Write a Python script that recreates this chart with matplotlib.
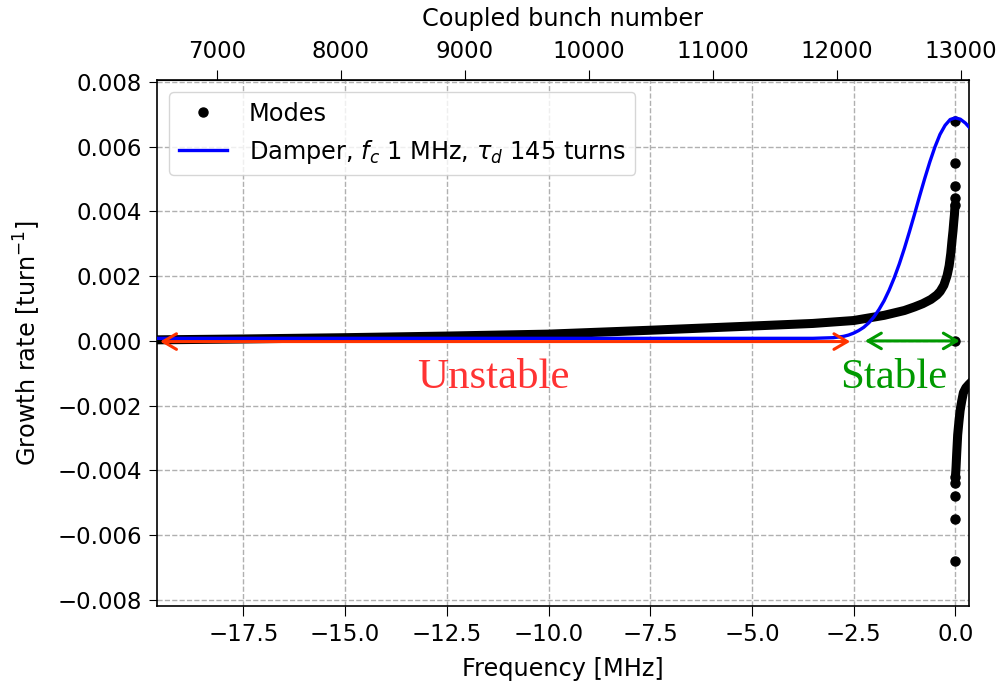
import matplotlib.pyplot as plt

# dense part of the mode spectrum (upper branch below 0 MHz, lower branch above)
band_up_freq = [-19.9, -17.5, -15.0, -12.5, -10.0, -7.5, -5.0, -3.5, -2.5, -1.75,
                -1.25, -1.0, -0.8, -0.6, -0.45, -0.37, -0.28, -0.2, -0.15, -0.11,
                -0.08, -0.055, -0.035, -0.02, -0.01, -0.005]
band_up_rate = [0.00003, 0.00006, 0.0001, 0.00015, 0.00021, 0.00033, 0.00046, 0.00054,
                0.00063, 0.00079, 0.00094, 0.00105, 0.00115, 0.00128, 0.00142, 0.00153,
                0.00172, 0.00202, 0.00232, 0.0027, 0.0031, 0.0034, 0.0037, 0.0039,
                0.0041, 0.0042]
band_lo_freq = [0.005, 0.01, 0.02, 0.035, 0.06, 0.09, 0.12, 0.16, 0.2, 0.26, 0.33, 0.45]
band_lo_rate = [-0.0042, -0.0041, -0.0039, -0.0035, -0.0029, -0.0025, -0.00215,
                -0.00185, -0.0016, -0.00145, -0.00135, -0.0012]

# isolated modes close to 0 MHz
mode_freq = [-0.001, -0.002, -0.003, -0.004, -0.005, 0.0, 0.001, 0.002, 0.003, 0.004, 0.005]
mode_rate = [0.0068, 0.0055, 0.0048, 0.00443, 0.0042, 0.0,
             -0.0068, -0.0055, -0.0048, -0.0044, -0.0042]

# damper response
damp_freq = [-19.9, -10.0, -5.0, -3.5, -3.0, -2.75, -2.625, -2.5, -2.375, -2.25, -2.125,
             -2.0, -1.875, -1.75, -1.625, -1.5, -1.375, -1.25, -1.125, -1.0, -0.875,
             -0.75, -0.625, -0.5, -0.375, -0.25, -0.125, 0.0, 0.125, 0.25, 0.45]
damp_rate = [0.00008, 0.00008, 0.00008, 0.00008, 0.0001, 0.00014, 0.00018, 0.00024,
             0.00032, 0.00042, 0.00056, 0.00074, 0.00097, 0.00124, 0.00157, 0.00195,
             0.00238, 0.00286, 0.00338, 0.00392, 0.00448, 0.00502, 0.00553, 0.00599,
             0.00638, 0.00666, 0.00684, 0.00689, 0.00685, 0.00673, 0.00645]

f_rev = 0.003048   # MHz per coupled bunch number
n_zero = 12956     # coupled bunch number at 0 MHz

plt.rcParams['font.size'] = 17.3
plt.rcParams['xtick.labelsize'] = 16.5
plt.rcParams['ytick.labelsize'] = 16.5
plt.rcParams['xtick.major.size'] = 7
plt.rcParams['ytick.major.size'] = 6
plt.rcParams['xtick.major.pad'] = 5
plt.rcParams['ytick.major.pad'] = 5

fig = plt.figure(figsize=(10.01, 6.84), dpi=100)
ax = fig.add_axes([0.1571, 0.114, 0.8106, 0.769])

ax.plot(band_up_freq, band_up_rate, '-', color='k', lw=6.5, solid_capstyle='round', zorder=2)
ax.plot(band_lo_freq, band_lo_rate, '-', color='k', lw=6.5, solid_capstyle='round', zorder=2)
ax.plot(mode_freq, mode_rate, 'o', color='k', ms=6.5, label='Modes', zorder=2)
ax.plot(damp_freq, damp_rate, '-', color='b', lw=2.4,
        label=r'Damper, $f_c$ 1 MHz, $\tau_d$ 145 turns', zorder=3)

# unstable / stable regions
ax.annotate('', xy=(-19.55, -0.00002), xytext=(-2.58, -0.00002),
            arrowprops=dict(arrowstyle='<->,head_length=0.6,head_width=0.35',
                            color='#ff3300', lw=2.2, mutation_scale=16,
                            shrinkA=0, shrinkB=0), zorder=4)
ax.annotate('', xy=(-2.22, 0.0), xytext=(0.11, 0.0),
            arrowprops=dict(arrowstyle='<->,head_length=0.6,head_width=0.35',
                            color='#009900', lw=2.2, mutation_scale=16,
                            shrinkA=0, shrinkB=0), zorder=4)
ax.text(-11.36, -0.00114, 'Unstable', color='#ff3333', fontsize=31,
        family='Liberation Serif', ha='center', va='center')
ax.text(-1.51, -0.00114, 'Stable', color='#009900', fontsize=31,
        family='Liberation Serif', ha='center', va='center')

ax.set_xlim(-19.62, 0.33)
ax.set_ylim(-0.00819, 0.00806)
ax.set_xticks([-17.5, -15.0, -12.5, -10.0, -7.5, -5.0, -2.5, 0.0])
ax.set_yticks([-0.008, -0.006, -0.004, -0.002, 0.0, 0.002, 0.004, 0.006, 0.008])
ax.grid(True, ls='--', color='#b0b0b0', lw=1.0)
ax.set_xlabel('Frequency [MHz]', labelpad=8)
ax.set_ylabel('Growth rate [turn$^{-1}$]', labelpad=10)
for s in ax.spines.values():
    s.set_linewidth(1.2)

top = ax.secondary_xaxis('top', functions=(lambda f: f / f_rev + n_zero,
                                           lambda n: (n - n_zero) * f_rev))
top.set_xticks([7000, 8000, 9000, 10000, 11000, 12000, 13000])
top.set_xlabel('Coupled bunch number', labelpad=10)

ax.legend(loc='upper left', handletextpad=0.9)

fig.savefig('out.png', dpi=100)
